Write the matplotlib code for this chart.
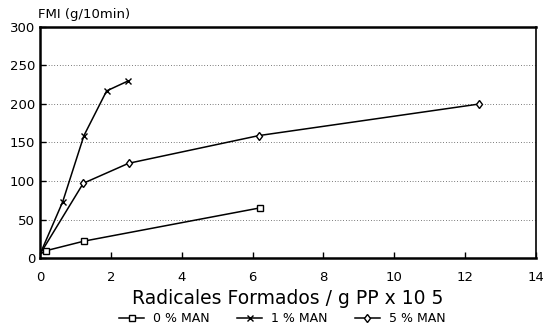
import matplotlib.pyplot as plt
from matplotlib.lines import Line2D

# Data
x_0man = [0.17, 1.25, 6.2]
y_0man = [9.5, 22, 65]

x_1man = [0.0, 0.64, 1.24, 1.88, 2.49]
y_1man = [5, 73, 159, 217, 230]

x_5man = [0.0, 1.22, 2.5, 6.18, 12.4]
y_5man = [5, 97, 123, 159, 200]

x_ticks = [0, 2, 4, 6, 8, 10, 12, 14]
y_ticks = [0, 50, 100, 150, 200, 250, 300]

plt.rcParams['font.family'] = ['DejaVu Sans']

fig = plt.figure(figsize=(5.43, 3.28), dpi=100)
ax = fig.add_axes([0.0737, 0.2134, 0.9134, 0.7043])

# dotted horizontal grid
for yv in y_ticks[1:-1]:
    ax.axhline(yv, color='black', linestyle=(0, (1, 3)), linewidth=0.5, zorder=0)

ax.plot([0.0] + x_0man, [5] + y_0man, color='black', linewidth=1.1,
        marker='s', markersize=4.5, markerfacecolor='white', markevery=[1, 2, 3])
ax.plot(x_1man, y_1man, color='black', linewidth=1.1,
        marker='x', markersize=5, markevery=[1, 2, 3, 4])
ax.plot(x_5man, y_5man, color='black', linewidth=1.1,
        marker='d', markersize=4.5, markerfacecolor='white', markevery=[1, 2, 3, 4])

ax.set_xlim(0, 14)
ax.set_ylim(0, 300)
ax.set_xticks(x_ticks)
ax.set_yticks(y_ticks)
ax.tick_params(direction='in', length=4, labelsize=9.5, width=1)
ax.tick_params(axis='x', pad=9)
for side in ['bottom', 'left', 'top']:
    ax.spines[side].set_linewidth(1.8)
ax.spines['right'].set_linewidth(1.2)

fig.text(0.07, 0.955, 'FMI (g/10min)', fontsize=9.5, ha='left', va='center')
ax.set_xlabel('Radicales Formados / g PP x 10 5', fontsize=13.5, labelpad=4)

handles = [
    Line2D([], [], color='black', linewidth=1.1, marker='s', markersize=4.5,
           markerfacecolor='white'),
    Line2D([], [], color='black', linewidth=1.1, marker='x', markersize=5),
    Line2D([], [], color='black', linewidth=1.1, marker='d', markersize=4.5,
           markerfacecolor='white'),
]
fig.legend(handles, ['0 % MAN', '1 % MAN', '5 % MAN'], loc='center',
           bbox_to_anchor=(0.52, 0.028), ncol=3, frameon=False, fontsize=9,
           handlelength=2.0, columnspacing=2.2, handletextpad=0.7)

plt.savefig('out.png', dpi=100)
